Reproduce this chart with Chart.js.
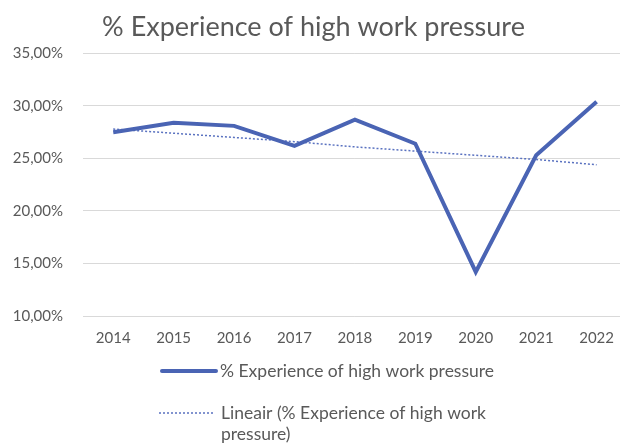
<!DOCTYPE html>
<html>
<head>
<meta charset="utf-8">
<script src="https://cdn.jsdelivr.net/npm/chart.js@4.4.1/dist/chart.umd.min.js"></script>
<style>
  html, body { margin: 0; padding: 0; background: #fff; overflow: hidden; }
  #wrap { width: 627px; height: 447px; }
</style>
</head>
<body>
<div id="wrap"><canvas id="pressure_chart"></canvas></div>
<script>
// years on the x axis
const years = ["2014", "2015", "2016", "2017", "2018", "2019", "2020", "2021", "2022"];
// share of people reporting high work pressure (%)
const pressure = [27.5, 28.4, 28.1, 26.2, 28.7, 26.4, 14.2, 25.3, 30.4];
// linear trendline as shown in the sheet (%)
const trend = [27.8, 27.4, 27.0, 26.6, 26.1, 25.7, 25.3, 24.9, 24.4];
// y axis range and step (%)
const yMin = 10, yMax = 35, yStep = 5;

const seriesName = "% Experience of high work pressure";
const trendName = ["Lineair (% Experience of high work", "pressure)"];
const mainColor = "#4a64b4";
const textColor = "#595959";
const fontFamily = "Lato, 'Open Sans', sans-serif";

const fmtPct = v => v.toFixed(2).replace(".", ",") + "%";

// legend below the axis, two rows, drawn by hand so the second label can wrap
const bottomLegend = {
    id: "bottomLegend",
    afterDraw(chart) {
        const ctx = chart.ctx;
        const base = chart.chartArea.bottom;
        const ds = chart.data.datasets;
        ctx.save();
        ctx.font = "17.5px " + fontFamily;
        ctx.fillStyle = textColor;
        ctx.textBaseline = "middle";

        // row 1: solid series
        ctx.strokeStyle = ds[0].borderColor;
        ctx.lineWidth = ds[0].borderWidth;
        ctx.lineCap = "round";
        ctx.beginPath();
        ctx.moveTo(162, base + 55);
        ctx.lineTo(216, base + 55);
        ctx.stroke();
        ctx.fillText(seriesName, 220, base + 55);

        // row 2: dotted trendline
        ctx.strokeStyle = ds[1].borderColor;
        ctx.lineWidth = ds[1].borderWidth;
        ctx.lineCap = "butt";
        ctx.setLineDash(ds[1].borderDash);
        ctx.beginPath();
        ctx.moveTo(159, base + 97);
        ctx.lineTo(213, base + 97);
        ctx.stroke();
        ctx.setLineDash([]);
        ctx.fillText(trendName[0], 221, base + 97);
        ctx.fillText(trendName[1], 221, base + 118);
        ctx.restore();
    }
};

new Chart("pressure_chart", {
    type: "line",
    data: {
        labels: years,
        datasets: [{
            label: seriesName,
            data: pressure,
            borderColor: mainColor,
            backgroundColor: mainColor,
            borderWidth: 4,
            pointRadius: 0,
            tension: 0,
            order: 1
        }, {
            label: trendName.join(" "),
            data: trend,
            borderColor: "#5a72c0",
            backgroundColor: "#5a72c0",
            borderWidth: 1.5,
            borderDash: [2, 2],
            pointRadius: 0,
            tension: 0,
            order: 2
        }]
    },
    options: {
        responsive: true,
        maintainAspectRatio: false,
        animation: false,
        layout: { padding: { top: 0, left: 0, right: 0, bottom: 97 } },
        plugins: {
            legend: { display: false },
            tooltip: { enabled: false },
            title: {
                display: true,
                text: seriesName,
                color: textColor,
                font: { family: fontFamily, size: 27, weight: "normal" },
                padding: { top: 11, bottom: 10 }
            }
        },
        scales: {
            x: {
                offset: true,
                grid: { display: false, drawTicks: false },
                border: { display: false },
                ticks: { color: textColor, font: { family: fontFamily, size: 15 }, padding: 13, maxRotation: 0 },
                afterFit: s => { s.height = 34; }
            },
            y: {
                min: yMin,
                max: yMax,
                grid: { color: "#d9d9d9", lineWidth: 1, drawTicks: false },
                border: { display: false },
                ticks: {
                    stepSize: yStep,
                    color: textColor,
                    font: { family: fontFamily, size: 15 },
                    padding: 20,
                    callback: v => fmtPct(v)
                },
                afterFit: s => { s.width = 83; }
            }
        }
    },
    plugins: [bottomLegend]
});
</script>
</body>
</html>
